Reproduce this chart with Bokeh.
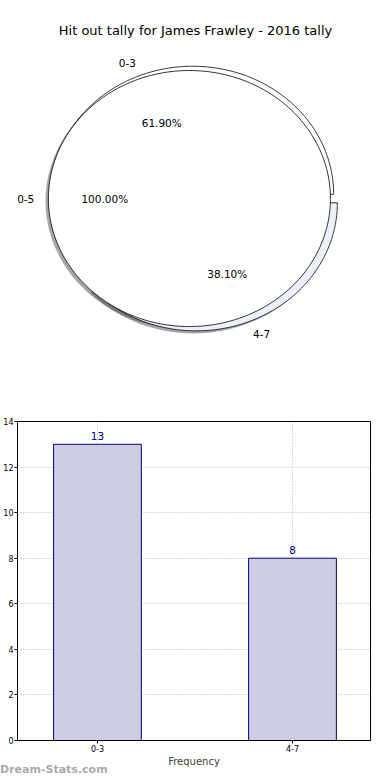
import numpy as np
from bokeh.plotting import figure
from bokeh.models import Range1d, Label, LabelSet, FixedTicker, ColumnDataSource, Div
from bokeh.layouts import column
from bokeh.embed import file_html
from bokeh.resources import INLINE
from bokeh.core.properties import value

# ---------------- data ----------------
title_text = "Hit out tally for James Frawley - 2016 tally"
outer_labels = ["0-3", "4-7"]
outer_values = [13, 8]
inner_labels = ["0-5"]
inner_values = [21]
bar_categories = ["0-3", "4-7"]
bar_values = [13, 8]
y_ticks = [0, 2, 4, 6, 8, 10, 12, 14]
x_label = "Frequency"
watermark = "Dream-Stats.com"

# ---------------- styles ----------------
FONT = value("DejaVu Sans")
outer_colors = ["#ffffff", "#ebf0fc"]
inner_colors = ["#ffffff"]
EXPLODE = 0.036
LABEL_DIST = 1.1
PCT_DIST = 0.6
SHADOW_DX, SHADOW_DY = -0.02, -0.02
LEFT_BORDER = 17


def pie_parts(values, labels, colors):
    vals = np.asarray(values, dtype=float)
    frac = vals / vals.sum()
    edges = np.concatenate([[0.0], np.cumsum(frac)]) * 2 * np.pi
    parts = []
    for i in range(len(vals)):
        a0, a1 = edges[i], edges[i + 1]
        mid = 0.5 * (a0 + a1)
        cx, cy = EXPLODE * np.cos(mid), EXPLODE * np.sin(mid)
        th = np.linspace(a0, a1, 240)
        if frac[i] >= 0.9999:
            xs, ys = cx + np.cos(th), cy + np.sin(th)
        else:
            xs = np.concatenate([[cx], cx + np.cos(th), [cx]])
            ys = np.concatenate([[cy], cy + np.sin(th), [cy]])
        lx, ly = cx + LABEL_DIST * np.cos(mid), cy + LABEL_DIST * np.sin(mid)
        px, py = cx + PCT_DIST * np.cos(mid), cy + PCT_DIST * np.sin(mid)
        parts.append(dict(xs=xs, ys=ys, color=colors[i], label=labels[i],
                          lx=lx, ly=ly, align="left" if lx > 0 else "right",
                          px=px, py=py, pct="%.2f%%" % (100 * frac[i])))
    return parts


outer = pie_parts(outer_values, outer_labels, outer_colors)
inner = pie_parts(inner_values, inner_labels, inner_colors)
allparts = outer + inner

# ---------------- pie figure ----------------
p1 = figure(width=390, height=393, output_backend="svg", toolbar_location=None,
            x_range=Range1d(-1.255, 1.248), y_range=Range1d(-1.523, 1.547),
            x_axis_type=None, y_axis_type=None,
            min_border_left=LEFT_BORDER, min_border_right=20, min_border_top=0, min_border_bottom=0)
p1.outline_line_color = None
p1.grid.visible = False

# shadows (below all wedges)
p1.patches(xs=[list(d["xs"] + SHADOW_DX) for d in allparts],
           ys=[list(d["ys"] + SHADOW_DY) for d in allparts],
           fill_color="#4d4d4d", fill_alpha=0.5, line_color=None)
# outer pie first, then the full pie on top
for group in (outer, inner):
    p1.patches(xs=[list(d["xs"]) for d in group], ys=[list(d["ys"]) for d in group],
               fill_color=[d["color"] for d in group], line_color="black", line_width=0.8)

for align in ("left", "right"):
    sel = [d for d in allparts if d["align"] == align]
    src = ColumnDataSource(dict(x=[d["lx"] for d in sel], y=[d["ly"] for d in sel],
                                t=[d["label"] for d in sel]))
    p1.add_layout(LabelSet(x="x", y="y", text="t", source=src, text_align=align,
                           text_baseline="middle", text_font=FONT,
                           text_font_size=value("10.5px"), text_color="black"))
pct_src = ColumnDataSource(dict(x=[d["px"] for d in allparts], y=[d["py"] for d in allparts],
                                t=[d["pct"] for d in allparts]))
p1.add_layout(LabelSet(x="x", y="y", text="t", source=pct_src, text_align="center",
                       text_baseline="middle", text_font=FONT,
                       text_font_size=value("10.5px"), text_color="black"))

p1.add_layout(Label(x=195 - LEFT_BORDER, y=363, x_units="screen", y_units="screen",
                    text=title_text, text_align="center", text_baseline="middle",
                    text_font="DejaVu Sans", text_font_size="13px", text_color="black"))

# ---------------- bar figure ----------------
idx = list(range(len(bar_categories)))
p2 = figure(width=390, height=387, output_backend="svg", toolbar_location=None,
            x_range=Range1d(-0.410, 1.4), y_range=Range1d(0, 14),
            min_border_left=LEFT_BORDER, min_border_right=20, min_border_top=28,
            min_border_bottom=40)
p2.vbar(x=idx, top=bar_values, width=0.45, bottom=0,
        fill_color="#ccccE5", line_color="#000080", line_width=1)
p2.text(x=idx, y=bar_values, text=[str(v) for v in bar_values], text_align="center",
        text_baseline="bottom", y_offset=-4, text_font=FONT, text_font_size="10.5px",
        text_color="#000080")

p2.xaxis.ticker = FixedTicker(ticks=idx)
p2.xaxis.major_label_overrides = {i: c for i, c in zip(idx, bar_categories)}
p2.yaxis.ticker = FixedTicker(ticks=y_ticks)
for ax in (p2.xaxis[0], p2.yaxis[0]):
    ax.major_label_text_font = "DejaVu Sans"
    ax.major_label_text_font_size = "8px"
    ax.major_label_text_color = "black"
    ax.major_label_standoff = 1
    ax.major_tick_out = 3
    ax.major_tick_in = 0
    ax.minor_tick_line_color = None
    ax.axis_line_color = "black"
    ax.major_tick_line_color = "black"
p2.xaxis.axis_label = x_label
p2.xaxis.axis_label_text_font = "DejaVu Sans"
p2.xaxis.axis_label_text_font_size = "10px"
p2.xaxis.axis_label_text_font_style = "normal"
p2.xaxis.axis_label_standoff = 1
p2.grid.grid_line_color = "#b4b4b4"
p2.grid.grid_line_dash = "1 2"
p2.grid.grid_line_width = 1
p2.outline_line_color = "black"
p2.outline_line_width = 1

wm = Div(text=watermark, width=130, height=16,
         styles={"position": "absolute", "left": "0px", "top": "763px",
                 "white-space": "nowrap", "line-height": "14px", "margin": "0px",
                 "padding": "0px", "font-family": "DejaVu Sans", "font-size": "11px",
                 "font-weight": "bold", "color": "#aaaaaa", "z-index": "10"})

layout = column(p1, p2, wm, spacing=0)
open("out.html", "w").write(file_html(layout, INLINE))
